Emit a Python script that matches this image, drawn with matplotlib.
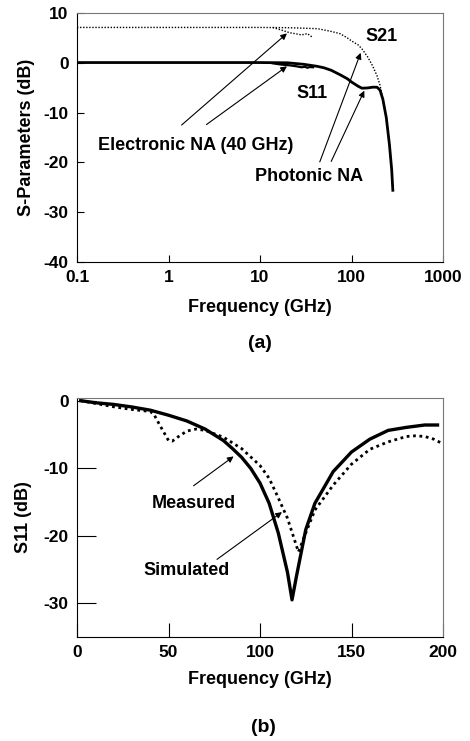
import matplotlib.pyplot as plt
import numpy as np

plt.rcParams['font.family'] = ['Liberation Sans', 'DejaVu Sans']
plt.rcParams['font.weight'] = 'bold'
plt.rcParams['font.size'] = 12
plt.rcParams['axes.unicode_minus'] = False

# (a) photonic NA, 0.1 - 280 GHz
f_ph = [0.1, 1, 10, 20, 30, 42, 50, 60, 75, 90, 100, 118, 130, 150, 170, 190, 205, 220, 240, 260, 275, 283]
s21_ph = [7.1, 7.1, 7.1, 7.05, 6.95, 6.85, 6.6, 6.3, 5.85, 5.0, 4.4, 3.6, 2.8, 1.2, -0.6, -2.6, -4.5, -7.3, -11.0, -16.5, -21.5, -25.6]
s11_ph = [0.05, 0.05, 0.05, 0.0, -0.3, -0.7, -1.0, -1.5, -2.4, -3.2, -3.85, -4.7, -5.1, -5.05, -4.9, -4.9, -5.5, -7.3, -11.0, -16.5, -21.5, -25.6]

# (a) electronic NA, up to 40 GHz
f_el = [13.8, 17, 21, 25, 28.5, 31, 33, 35, 38]
s21_el = [7.1, 6.6, 6.05, 5.8, 5.6, 5.75, 5.86, 5.5, 5.06]
s11_el = [-0.1, -0.35, -0.5, -0.7, -0.9, -0.8, -1.0, -0.85, -0.9]

# (b) S11 vs frequency
f_b = [2, 10, 20, 30, 40, 50, 60, 70, 80, 85, 90, 95, 100, 105, 110, 115, 117.5, 120, 125, 130, 140, 150, 160, 170, 180, 190, 197]
s11_meas = [0.0, -0.3, -0.55, -0.93, -1.4, -2.15, -3.0, -4.2, -5.9, -7.1, -8.4, -10.05, -12.2, -15.2, -19.6, -25.4, -29.5,
            -25.9, -19.1, -15.2, -10.5, -7.6, -5.7, -4.4, -3.95, -3.6, -3.6]
f_sim = [2, 10, 20, 30, 40, 42, 45, 50, 52, 55, 60, 65, 70, 80, 90, 100, 105, 110, 115, 121, 125, 130, 140, 150, 160, 170,
         180, 185, 190, 195, 200]
s11_sim = [0.0, -0.4, -0.9, -1.3, -1.6, -2.0, -3.5, -5.9, -6.0, -5.4, -4.5, -4.2, -4.4, -5.4, -7.1, -9.6, -11.5, -14.4, -17.4,
           -22.4, -19.6, -16.2, -12.5, -9.4, -7.2, -6.1, -5.3, -5.2, -5.3, -5.7, -6.4]

fig = plt.figure(figsize=(4.7, 7.41), dpi=100)
W, H = 470, 741
FS = 13

def style(ax):
    for s in ['top', 'right']:
        ax.spines[s].set_color('#777777')
    for s in ['left', 'bottom']:
        ax.spines[s].set_color('black')
    ax.tick_params(direction='in', width=0.8, labelsize=12.5, pad=6)

# ---- (a)
ax1 = fig.add_axes([77/W, 1 - 262/H, 366/W, 249/H])
ax1.semilogx(f_ph, s21_ph, color='black', lw=1.0, ls=(0, (1, 1.2)))
ax1.semilogx(f_el, s21_el, color='black', lw=1.0, ls=(0, (1, 1.2)))
ax1.semilogx(f_ph, s11_ph, color='black', lw=2.0)
ax1.semilogx(f_el, s11_el, color='black', lw=1.6)
ax1.set_xlim(0.1, 1000)
ax1.set_ylim(-40, 10)
ax1.set_yticks([-40, -30, -20, -10, 0, 10])
ax1.set_xticks([0.1, 1, 10, 100, 1000])
ax1.set_xticklabels(['0.1', '1', '10', '100', '1000'])
ax1.minorticks_off()
ax1.tick_params(length=5)
style(ax1)
ax1.set_xlabel('Frequency (GHz)', fontsize=FS, fontweight='bold', labelpad=10)
ax1.set_ylabel('S-Parameters (dB)', fontsize=FS, fontweight='bold', labelpad=6)

arr = dict(arrowstyle='-|>', color='black', lw=0.8, mutation_scale=9, shrinkA=0, shrinkB=0)
ax1.annotate('', xy=(19.7, 5.9), xytext=(1.39, -12.5), arrowprops=arr)
ax1.annotate('', xy=(19.7, -0.7), xytext=(2.6, -12.4), arrowprops=arr)
ax1.annotate('', xy=(126, 2.0), xytext=(45, -19.9), arrowprops=arr)
ax1.annotate('', xy=(138, -5.6), xytext=(60, -19.8), arrowprops=arr)
ax1.text(2.0, -16.6, 'Electronic NA (40 GHz)', ha='center', va='center', fontsize=FS, fontweight='bold')
ax1.text(34, -22.8, 'Photonic NA', ha='center', va='center', fontsize=FS, fontweight='bold')
ax1.text(215, 5.3, 'S21', ha='center', va='center', fontsize=FS, fontweight='bold')
ax1.text(37, -6.1, 'S11', ha='center', va='center', fontsize=FS, fontweight='bold')
fig.text(260/W, 1 - 343/H, '(a)', ha='center', va='center', fontsize=14, fontweight='bold')

# ---- (b)
ax2 = fig.add_axes([77/W, 1 - 637/H, 366/W, 239/H])
ax2.plot(f_sim, s11_sim, color='black', lw=2.0, ls=(0, (1, 1.3)))
ax2.plot(f_b, s11_meas, color='black', lw=2.4)
ax2.set_xlim(0, 200)
ax2.set_ylim(-35, 0.4)
ax2.set_yticks([-30, -20, -10, 0])
ax2.set_xticks([0, 50, 100, 150, 200])
ax2.tick_params(axis='y', length=14)
ax2.tick_params(axis='x', length=10)
style(ax2)
ax2.set_xlabel('Frequency (GHz)', fontsize=FS, fontweight='bold', labelpad=8)
ax2.set_ylabel('S11 (dB)', fontsize=FS, fontweight='bold', labelpad=8)
ax2.annotate('', xy=(85.6, -8.25), xytext=(63.7, -12.6), arrowprops=arr)
ax2.annotate('', xy=(112, -16.5), xytext=(76.5, -23.5), arrowprops=arr)
ax2.text(63.7, -15.2, 'Measured', ha='center', va='center', fontsize=FS, fontweight='bold')
ax2.text(59.7, -25.2, 'Simulated', ha='center', va='center', fontsize=FS, fontweight='bold')
fig.text(263/W, 1 - 728/H, '(b)', ha='center', va='center', fontsize=14, fontweight='bold')

fig.savefig('out.png', dpi=100)
